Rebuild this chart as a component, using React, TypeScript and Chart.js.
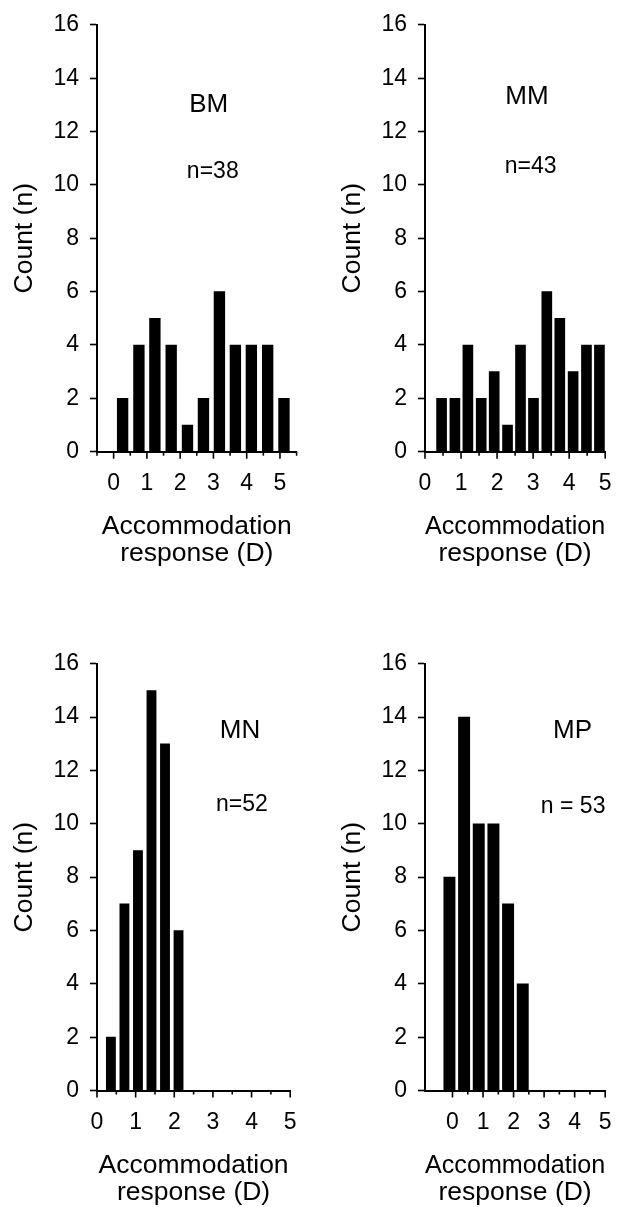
import React, { useEffect, useRef } from 'react';
import { Chart, registerables } from 'chart.js';

Chart.register(...registerables);

const FONT = '"Liberation Sans", Arial, Helvetica, sans-serif';

// Histogram data: bin centres (dioptres) and counts per group
const bmBins = [0.27, 0.76, 1.24, 1.73, 2.22, 2.7, 3.18, 3.66, 4.14, 4.63, 5.12];
const bmCounts = [2, 4, 5, 4, 1, 2, 6, 4, 4, 4, 2];

const mmBins = [0.46, 0.83, 1.19, 1.56, 1.92, 2.29, 2.65, 3.01, 3.38, 3.74, 4.11, 4.48, 4.84];
const mmCounts = [2, 2, 4, 2, 3, 1, 4, 2, 6, 5, 3, 4, 4];

const mnBins = [0.36, 0.71, 1.06, 1.41, 1.76, 2.11];
const mnCounts = [2, 7, 9, 15, 13, 6];

const mpBins = [-0.1, 0.38, 0.86, 1.34, 1.82, 2.3];
const mpCounts = [8, 14, 10, 10, 7, 4];

const panelNames = ['BM', 'MM', 'MN', 'MP'];
const sampleLabels = ['n=38', 'n=43', 'n=52', 'n = 53'];

const xLabelValues = [0, 1, 2, 3, 4, 5];
const xTitle = ['Accommodation', 'response (D)'];
const yTitle = 'Count (n)';
const yMin = 0;
const yMax = 16;
const yStep = 2;

type PanelCfg = {
  bins: number[];
  counts: number[];
  name: string;
  nLabel: string;
  xMin: number;
  xMax: number;
  nameAt: [number, number];
  nAt: [number, number];
  barWidth: number;
  left: number;
  top: number;
  width: number;
  height: number;
  padRight: number;
  padBottom: number;
};

const panels: PanelCfg[] = [
  {
    bins: bmBins, counts: bmCounts, name: panelNames[0], nLabel: sampleLabels[0],
    xMin: -0.5, xMax: 5.5, nameAt: [2.86, 13.0], nAt: [2.98, 10.5], barWidth: 10.7,
    left: 0, top: 0, width: 315, height: 603, padRight: 18.4, padBottom: 35.8,
  },
  {
    bins: mmBins, counts: mmCounts, name: panelNames[1], nLabel: sampleLabels[1],
    xMin: 0, xMax: 5, nameAt: [2.83, 13.3], nAt: [2.93, 10.7], barWidth: 10,
    left: 328, top: 0, width: 302, height: 603, padRight: 7, padBottom: 35.8,
  },
  {
    bins: mnBins, counts: mnCounts, name: panelNames[2], nLabel: sampleLabels[2],
    xMin: 0, xMax: 5, nameAt: [3.7, 13.5], nAt: [3.75, 10.7], barWidth: 9.2,
    left: 0, top: 639, width: 315, height: 568, padRight: 18, padBottom: 1,
  },
  {
    bins: mpBins, counts: mpCounts, name: panelNames[3], nLabel: sampleLabels[3],
    xMin: -0.9, xMax: 5, nameAt: [3.93, 13.5], nAt: [3.95, 10.65], barWidth: 11.3,
    left: 328, top: 639, width: 302, height: 568, padRight: 7, padBottom: 1,
  },
];

function isInt(v: number) {
  return Math.abs(v - Math.round(v)) < 1e-6;
}

function Panel({ cfg }: { cfg: PanelCfg }) {
  const ref = useRef<HTMLCanvasElement>(null);

  useEffect(() => {
    if (!ref.current) return;

    const tickPlugin = {
      id: 'xTickMarks',
      afterDraw(chart: any) {
        const xs = chart.scales.x;
        const ctx = chart.ctx;
        const base = chart.chartArea.bottom;
        ctx.save();
        ctx.strokeStyle = '#000';
        ctx.lineWidth = 1.6;
        xs.ticks.forEach((t: any) => {
          const v = t.value;
          if (!isInt(v * 2)) return;
          const px = xs.getPixelForValue(v);
          const len = isInt(v) ? 7 : 4;
          ctx.beginPath();
          ctx.moveTo(px, base);
          ctx.lineTo(px, base + len);
          ctx.stroke();
        });
        ctx.restore();
      },
    };

    const textPlugin = {
      id: 'panelText',
      afterDatasetsDraw(chart: any) {
        const xs = chart.scales.x;
        const ys = chart.scales.y;
        const ctx = chart.ctx;
        ctx.save();
        ctx.fillStyle = '#000';
        ctx.textAlign = 'center';
        ctx.textBaseline = 'middle';
        ctx.font = `26px ${FONT}`;
        ctx.fillText(cfg.name, xs.getPixelForValue(cfg.nameAt[0]), ys.getPixelForValue(cfg.nameAt[1]));
        ctx.font = `23px ${FONT}`;
        ctx.fillText(cfg.nLabel, xs.getPixelForValue(cfg.nAt[0]), ys.getPixelForValue(cfg.nAt[1]));
        ctx.restore();
      },
    };

    const chart = new Chart(ref.current, {
      type: 'bar',
      data: {
        datasets: [
          {
            data: cfg.bins.map((x, i) => ({ x, y: cfg.counts[i] })),
            backgroundColor: '#000',
            borderWidth: 0,
            barThickness: cfg.barWidth,
          } as any,
        ],
      },
      options: {
        animation: false,
        responsive: true,
        maintainAspectRatio: false,
        layout: { padding: { top: 23, left: 0, right: cfg.padRight, bottom: cfg.padBottom } },
        plugins: {
          legend: { display: false },
          tooltip: { enabled: false },
        },
        scales: {
          x: {
            type: 'linear',
            min: cfg.xMin,
            max: cfg.xMax,
            offset: false,
            grid: { display: false, drawTicks: false, offset: false },
            border: { display: true, color: '#000', width: 2 },
            ticks: {
              stepSize: 0.5,
              autoSkip: false,
              maxRotation: 0,
              minRotation: 0,
              padding: 18.4,
              color: '#000',
              font: { family: FONT, size: 23 },
              callback: (v: any) => {
                const n = Number(v);
                return xLabelValues.some((lv) => Math.abs(lv - n) < 1e-6) ? String(Math.round(n)) : '';
              },
            },
            title: {
              display: true,
              text: xTitle,
              color: '#000',
              font: { family: FONT, size: 26.5, lineHeight: '27px' },
              padding: 0,
            },
            afterFit: (s: any) => {
              s.height = 115.5;
            },
          } as any,
          y: {
            type: 'linear',
            min: yMin,
            max: yMax,
            grid: {
              display: true,
              drawOnChartArea: false,
              drawTicks: true,
              tickLength: 7,
              tickWidth: 1.6,
              tickColor: '#000',
            },
            border: { display: true, color: '#000', width: 2 },
            ticks: {
              stepSize: yStep,
              padding: 11,
              color: '#000',
              font: { family: FONT, size: 23 },
            },
            title: {
              display: true,
              text: yTitle,
              color: '#000',
              font: { family: FONT, size: 26.5, lineHeight: '27px' },
              padding: { top: 11.5, bottom: 0 },
            },
            afterFit: (s: any) => {
              s.width = 97;
            },
          } as any,
        },
      },
      plugins: [tickPlugin, textPlugin],
    });

    return () => chart.destroy();
  }, [cfg]);

  return (
    <div
      style={{
        position: 'absolute',
        left: cfg.left,
        top: cfg.top,
        width: cfg.width,
        height: cfg.height,
      }}
    >
      <canvas ref={ref} />
    </div>
  );
}

export default function App() {
  return (
    <div
      style={{
        position: 'absolute',
        left: 0,
        top: 0,
        width: 630,
        height: 1207,
        background: '#fff',
        overflow: 'hidden',
      }}
    >
      {panels.map((p, i) => (
        <Panel key={i} cfg={p} />
      ))}
    </div>
  );
}
